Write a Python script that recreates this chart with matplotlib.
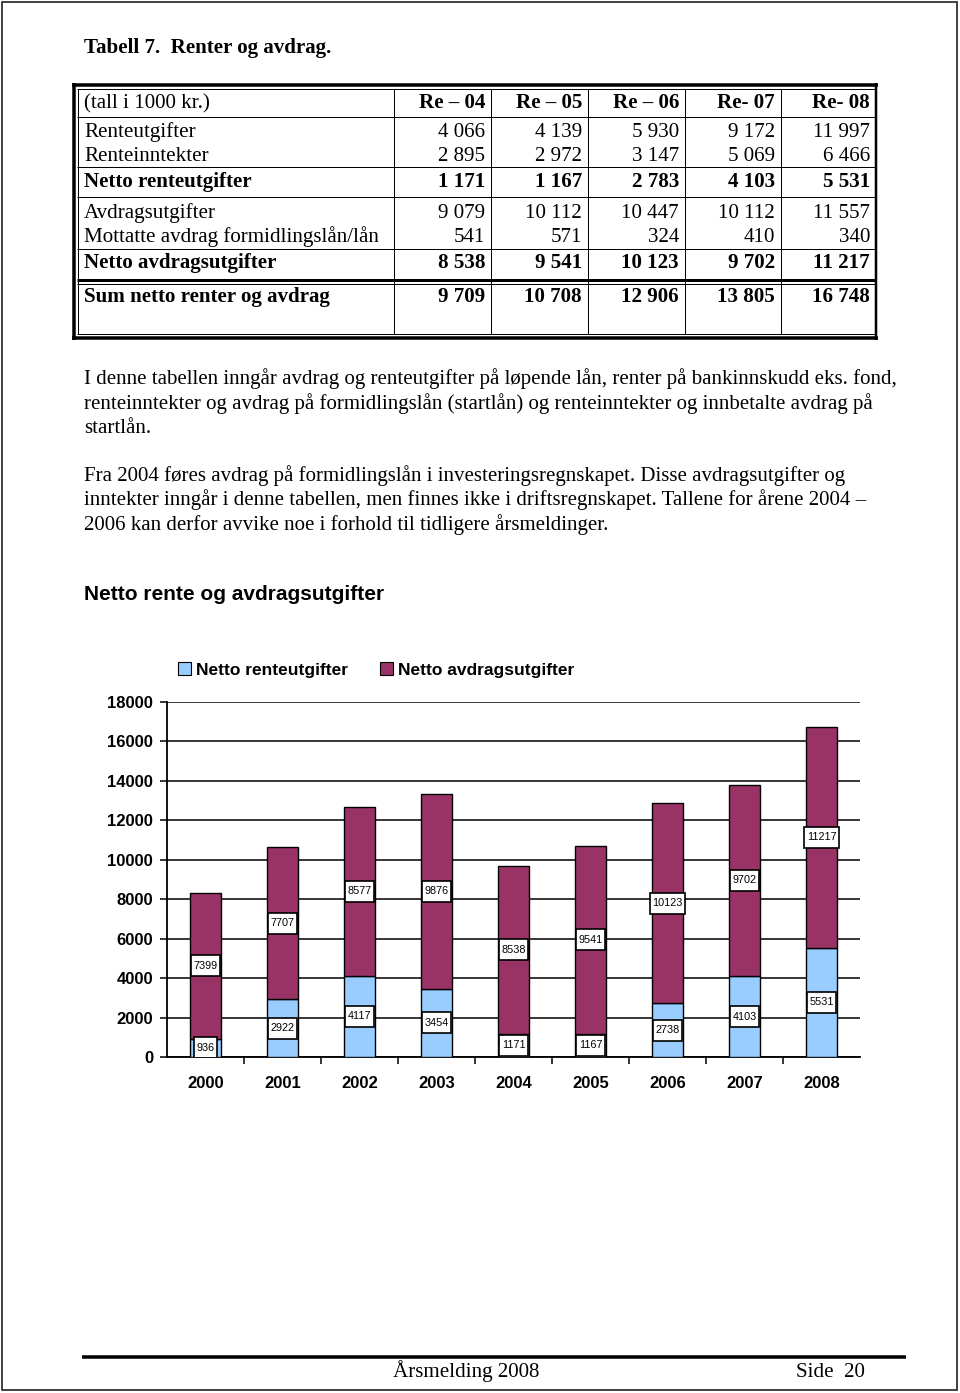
import matplotlib
matplotlib.use("Agg")
import matplotlib.pyplot as plt
import matplotlib.transforms as mtransforms
from matplotlib.lines import Line2D
from matplotlib.patches import Patch, Rectangle

W, H = 960, 1393
SERIF = "Liberation Serif"
SANS = "Liberation Sans"

# --- table data ---
col_heads = ["Re – 04", "Re – 05", "Re – 06", "Re- 07", "Re- 08"]
row_labels = ["Renteutgifter", "Renteinntekter", "Netto renteutgifter",
              "Avdragsutgifter", "Mottatte avdrag formidlingslån/lån",
              "Netto avdragsutgifter", "Sum netto renter og avdrag"]
renteutgifter = [4066, 4139, 5930, 9172, 11997]
renteinntekter = [2895, 2972, 3147, 5069, 6466]
netto_rente = [1171, 1167, 2783, 4103, 5531]
avdragsutgifter = [9079, 10112, 10447, 10112, 11557]
mottatte_avdrag = [541, 571, 324, 410, 340]
netto_avdrag = [8538, 9541, 10123, 9702, 11217]
sum_netto = [9709, 10708, 12906, 13805, 16748]
bold_rows = [2, 5, 6]

# --- chart data ---
years = ["2000", "2001", "2002", "2003", "2004", "2005", "2006", "2007", "2008"]
netto_renteutgifter = [936, 2922, 4117, 3454, 1171, 1167, 2738, 4103, 5531]
netto_avdragsutgifter = [7399, 7707, 8577, 9876, 8538, 9541, 10123, 9702, 11217]

para1 = ["I denne tabellen inngår avdrag og renteutgifter på løpende lån, renter på bankinnskudd eks. fond,",
         "renteinntekter og avdrag på formidlingslån (startlån) og renteinntekter og innbetalte avdrag på",
         "startlån."]
para2 = ["Fra 2004 føres avdrag på formidlingslån i investeringsregnskapet. Disse avdragsutgifter og",
         "inntekter inngår i denne tabellen, men finnes ikke i driftsregnskapet. Tallene for årene 2004 –",
         "2006 kan derfor avvike noe i forhold til tidligere årsmeldinger."]

BODY = 15.1


def fx(x):
    return x / W


def fy(y):
    return 1 - y / H


def hline(fig, y, x0, x1, lw=1.0, color="black"):
    fig.add_artist(Line2D([fx(x0), fx(x1)], [fy(y), fy(y)], lw=lw * 0.72,
                          color=color, solid_capstyle="butt",
                          transform=fig.transFigure))


def vline(fig, x, y0, y1, lw=1.0, color="black"):
    fig.add_artist(Line2D([fx(x), fx(x)], [fy(y0), fy(y1)], lw=lw * 0.72,
                          color=color, solid_capstyle="butt",
                          transform=fig.transFigure))


def ptext(fig, x, y, s, size=BODY, family=SERIF, weight="normal", ha="left"):
    # y is the visual centre of the text line in pixels
    fig.text(fx(x), fy(y + 6), s, fontsize=size, family=family,
             weight=weight, ha=ha, va="baseline")


def fmt(v):
    return f"{v:,}".replace(",", " ")


fig = plt.figure(figsize=(W / 100, H / 100), dpi=100)

# page frame
fig.add_artist(Rectangle((fx(2), fy(1390)), fx(955), 1388 / H, fill=False,
                         ec="#333333", lw=1.3, transform=fig.transFigure))

ptext(fig, 84, 47, "Tabell 7.  Renter og avdrag.", weight="bold")

# --- table ---
col_edges = [394, 491, 588, 685, 781, 876]
hline(fig, 85, 72, 878, lw=3.5)
hline(fig, 89, 77, 876, lw=1)
for y in [117, 167, 197, 249]:
    hline(fig, y, 77, 876, lw=1)
hline(fig, 280, 77, 876, lw=3)
hline(fig, 284, 77, 876, lw=1)
hline(fig, 334, 77, 876, lw=1)
hline(fig, 338, 72, 878, lw=3.5)
vline(fig, 74, 83, 340, lw=3.5)
vline(fig, 78, 89, 334, lw=1)
vline(fig, 876, 83, 340, lw=2.5)
for x in col_edges[:-1]:
    vline(fig, x, 89, 334, lw=1)

ptext(fig, 84, 102, "(tall i 1000 kr.)")
for j, h in enumerate(col_heads):
    ptext(fig, col_edges[j + 1] - 6, 102, h, weight="bold", ha="right")

table_rows = [renteutgifter, renteinntekter, netto_rente, avdragsutgifter,
              mottatte_avdrag, netto_avdrag, sum_netto]
row_y = [131, 155, 181, 212, 236, 262, 296]
for i, (lab, vals) in enumerate(zip(row_labels, table_rows)):
    w = "bold" if i in bold_rows else "normal"
    ptext(fig, 84, row_y[i], lab, weight=w)
    for j, v in enumerate(vals):
        ptext(fig, col_edges[j + 1] - 6, row_y[i], fmt(v), weight=w, ha="right")

# --- paragraphs ---
for k, line in enumerate(para1):
    ptext(fig, 84, 378 + 24.5 * k, line, size=15.0)
for k, line in enumerate(para2):
    ptext(fig, 84, 475 + 24.5 * k, line, size=15.0)

# --- chart ---
fig.text(fx(84), fy(600), "Netto rente og avdragsutgifter", fontsize=15,
         family=SANS, weight="bold", ha="left", va="baseline")

ax = fig.add_axes([fx(167), fy(1057), (860 - 167) / W, (1057 - 702) / H])
x = range(len(years))
blue = "#99CCFF"
maroon = "#993366"
ax.bar(x, netto_renteutgifter, width=0.4, color=blue, edgecolor="black",
       lw=1.0, zorder=3, label="Netto renteutgifter")
ax.bar(x, netto_avdragsutgifter, width=0.4, bottom=netto_renteutgifter,
       color=maroon, edgecolor="black", lw=1.0, zorder=3,
       label="Netto avdragsutgifter")


def value_box(xv, yv, s):
    # white label box sized in pixels, centred on the data point
    tr = mtransforms.Affine2D() + mtransforms.ScaledTranslation(xv, yv, ax.transData)
    bw = len(s) * 5.8 + 6
    bh = 21
    ax.add_patch(Rectangle((-bw / 2, -bh / 2), bw, bh, fc="white", ec="black",
                           lw=1.2, transform=tr, zorder=5))
    ax.text(xv, yv, s, ha="center", va="center", fontsize=7.8, family=SANS,
            zorder=6)


for i in x:
    r = netto_renteutgifter[i]
    a = netto_avdragsutgifter[i]
    value_box(i, r / 2, str(r))
    value_box(i, r + a / 2, str(a))

ax.set_xlim(-0.5, len(years) - 0.5)
ax.set_ylim(0, 18000)
ax.set_yticks(range(0, 18001, 2000))
ax.yaxis.grid(True, color="black", lw=1.1, zorder=0)
ax.set_axisbelow(True)
ax.set_xticks(list(x))
ax.set_xticklabels(years)
ax.set_xticks([i + 0.5 for i in range(len(years) - 1)], minor=True)
ax.tick_params(axis="x", which="major", length=0, pad=14)
ax.tick_params(axis="x", which="minor", length=5, width=1.1, direction="out")
ax.tick_params(axis="y", length=5, width=1.1, pad=5)
for lab in ax.get_xticklabels() + ax.get_yticklabels():
    lab.set_family(SANS)
    lab.set_weight("bold")
    lab.set_fontsize(12)
for s in ["top", "right"]:
    ax.spines[s].set_visible(False)
for s in ["left", "bottom"]:
    ax.spines[s].set_linewidth(1.3)

handles = [Patch(fc=blue, ec="black", lw=0.8), Patch(fc=maroon, ec="black", lw=0.8)]
fig.legend(handles, ["Netto renteutgifter", "Netto avdragsutgifter"],
           loc="center left", bbox_to_anchor=(fx(162), fy(670)), ncol=2,
           frameon=False, handlelength=0.75, handleheight=0.75,
           handletextpad=0.3, columnspacing=1.85,
           prop=dict(family=SANS, weight="bold", size=12.5))

# --- footer ---
hline(fig, 1357, 82, 906, lw=3.5)
ptext(fig, 466, 1371, "Årsmelding 2008", ha="center")
ptext(fig, 796, 1371, "Side  20")

fig.savefig("out.png", dpi=100)
